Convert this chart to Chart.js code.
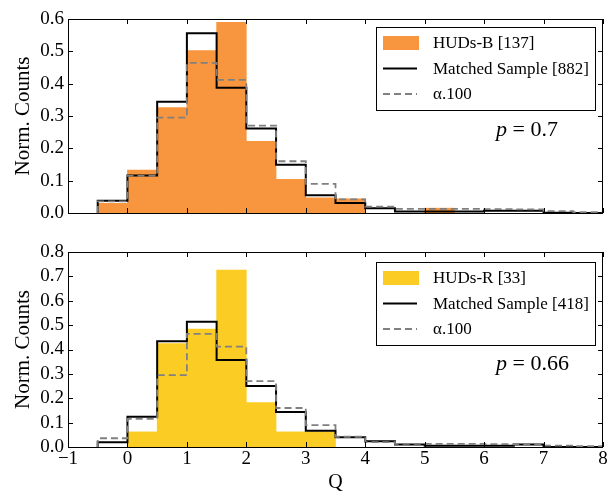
<!DOCTYPE html>
<html>
<head>
<meta charset="utf-8">
<script src="https://cdn.jsdelivr.net/npm/chart.js@4.4.1/dist/chart.umd.min.js"></script>
<style>
  html, body { margin: 0; padding: 0; background: #fff; }
  #wrap { width: 610px; height: 492px; }
  canvas { display: block; }
</style>
</head>
<body>
<div id="wrap">
  <canvas id="topPanel" width="610" height="235"></canvas>
  <canvas id="bottomPanel" width="610" height="257"></canvas>
</div>
<script>
// histogram bins of width 0.5 in Q
const binEdges = [-0.5, 0, 0.5, 1, 1.5, 2, 2.5, 3, 3.5, 4, 4.5, 5, 5.5, 6, 6.5, 7, 7.5, 8];

const hudsB    = [0.030, 0.133, 0.326, 0.502, 0.590, 0.222, 0.104, 0.047, 0.044, 0, 0, 0.015, 0, 0, 0, 0, 0];
const matchedB = [0.038, 0.116, 0.344, 0.556, 0.387, 0.261, 0.149, 0.055, 0.031, 0.015, 0.005, 0.005, 0.005, 0.007, 0.007, 0.001, 0];
const hudsR    = [0, 0.062, 0.424, 0.484, 0.726, 0.182, 0.062, 0.062, 0, 0, 0, 0, 0, 0, 0, 0, 0];
const matchedR = [0.020, 0.124, 0.434, 0.514, 0.357, 0.250, 0.144, 0.067, 0.040, 0.024, 0.010, 0.005, 0.005, 0.005, 0.010, 0, 0];
const alpha100 = [0.036, 0.115, 0.295, 0.464, 0.412, 0.270, 0.160, 0.090, 0.042, 0.020, 0.013, 0.013, 0.013, 0.012, 0.011, 0.006, 0.003];

const xTicks = [-1, 0, 1, 2, 3, 4, 5, 6, 7, 8];
const yTicksTop = [0, 0.1, 0.2, 0.3, 0.4, 0.5, 0.6];
const yTicksBottom = [0, 0.1, 0.2, 0.3, 0.4, 0.5, 0.6, 0.7, 0.8];

const SERIF = "'Liberation Serif', 'DejaVu Serif', serif";

// outline of a step histogram, starting and ending on zero
const stepPoints = (values) => {
  const pts = [{ x: binEdges[0], y: 0 }];
  values.forEach((v, i) => pts.push({ x: binEdges[i], y: v }));
  pts.push({ x: binEdges[values.length], y: 0 });
  return pts;
};

const barPoints = (values) =>
  values
    .map((v, i) => ({ x: (binEdges[i] + binEdges[i + 1]) / 2, y: v }))
    .filter((p) => p.y > 0);

// frame plus inward tick marks on all four sides
const innerTicks = {
  id: "innerTicks",
  afterDatasetsDraw(chart) {
    const { ctx, chartArea: a, scales: { x, y } } = chart;
    const len = 5;
    ctx.save();
    ctx.strokeStyle = "#000";
    ctx.lineWidth = 1;
    ctx.beginPath();
    x.ticks.forEach((t) => {
      const px = Math.round(x.getPixelForValue(t.value)) + 0.5;
      ctx.moveTo(px, a.bottom);
      ctx.lineTo(px, a.bottom - len);
      ctx.moveTo(px, a.top);
      ctx.lineTo(px, a.top + len);
    });
    y.ticks.forEach((t) => {
      const py = Math.round(y.getPixelForValue(t.value)) + 0.5;
      ctx.moveTo(a.left, py);
      ctx.lineTo(a.left + len, py);
      ctx.moveTo(a.right, py);
      ctx.lineTo(a.right - len, py);
    });
    ctx.stroke();
    ctx.strokeRect(a.left + 0.5, a.top + 0.5, a.right - a.left - 1, a.bottom - a.top);
    ctx.restore();
  },
};

// boxed legend in the upper right and the p-value note
const insetLegend = {
  id: "insetLegend",
  afterDraw(chart, args, opts) {
    const { ctx, chartArea: a } = chart;
    const w = 219, h = 83;
    const left = a.right - 8 - w;
    const top = a.top + opts.offsetTop;
    ctx.save();
    ctx.fillStyle = "#fff";
    ctx.fillRect(left, top, w, h);
    ctx.strokeStyle = "#000";
    ctx.lineWidth = 1;
    ctx.strokeRect(left + 0.5, top + 0.5, w, h);

    ctx.font = "17px " + SERIF;
    ctx.textBaseline = "middle";
    ctx.textAlign = "left";
    const rows = [2, 1, 0].map((i) => chart.data.datasets.find((d) => d.order === i));
    rows.forEach((ds, i) => {
      const cy = top + 16 + i * 25.5;
      if (ds.type === "bar") {
        ctx.fillStyle = ds.backgroundColor;
        ctx.fillRect(left + 7, cy - 7, 36, 14);
      } else {
        ctx.strokeStyle = ds.borderColor;
        ctx.lineWidth = ds.borderWidth;
        ctx.setLineDash(ds.borderDash || []);
        ctx.beginPath();
        ctx.moveTo(left + 7, cy);
        ctx.lineTo(left + 41, cy);
        ctx.stroke();
        ctx.setLineDash([]);
      }
      ctx.fillStyle = "#000";
      ctx.fillText(ds.label, left + 57, cy + 1);
    });

    // p = value, with an italic p
    const px = 496, py = a.top + opts.pOffset;
    ctx.font = "italic 22px " + SERIF;
    ctx.fillText("p", px, py);
    const pw = ctx.measureText("p").width;
    ctx.font = "22px " + SERIF;
    ctx.fillText(" = " + opts.pValue, px + pw, py);
    ctx.restore();
  },
};

const fixedTicks = (values) => (scale) => {
  scale.ticks = values.map((v) => ({ value: v }));
};

const buildPanel = (canvas, cfg) => {
  return new Chart(canvas, {
    data: {
      datasets: [
        {
          type: "bar",
          label: cfg.label,
          data: barPoints(cfg.huds),
          backgroundColor: cfg.color,
          borderWidth: 0,
          barPercentage: 1,
          categoryPercentage: 1,
          order: 2,
        },
        {
          type: "line",
          label: cfg.matchedLabel,
          data: stepPoints(cfg.matched),
          stepped: "before",
          borderColor: "#000",
          borderWidth: 2,
          pointRadius: 0,
          fill: false,
          order: 1,
        },
        {
          type: "line",
          label: "\u03b1.100",
          data: stepPoints(alpha100),
          stepped: "before",
          borderColor: "#808080",
          borderWidth: 1.8,
          borderDash: [7, 4],
          pointRadius: 0,
          fill: false,
          order: 0,
        },
      ],
    },
    options: {
      responsive: false,
      animation: false,
      events: [],
      layout: {
        padding: { left: 0, right: 7, top: cfg.padTop, bottom: 0 },
      },
      scales: {
        x: {
          type: "linear",
          min: -1,
          max: 8,
          offset: false,
          afterBuildTicks: fixedTicks(xTicks),
          afterFit: (s) => { s.height = cfg.xHeight; },
          grid: { display: false, drawTicks: false, offset: false },
          border: { display: false },
          ticks: {
            display: cfg.showX,
            autoSkip: false,
            maxRotation: 0,
            padding: 1,
            color: "#000",
            font: { family: SERIF, size: 19 },
            callback: (v) => (v < 0 ? "\u2212" + Math.abs(v) : String(v)),
          },
          title: {
            display: cfg.showX,
            text: "Q",
            color: "#000",
            font: { family: SERIF, size: 20 },
            padding: { top: 0, bottom: -3 },
          },
        },
        y: {
          type: "linear",
          min: 0,
          max: cfg.yMax,
          afterBuildTicks: fixedTicks(cfg.yTicks),
          afterFit: (s) => { s.width = 68; },
          grid: { display: false, drawTicks: false },
          border: { display: false },
          ticks: {
            autoSkip: false,
            padding: 4,
            color: "#000",
            font: { family: SERIF, size: 19 },
            callback: (v) => v.toFixed(1),
          },
          title: {
            display: true,
            text: "Norm. Counts",
            color: "#000",
            font: { family: SERIF, size: 21 },
            padding: { top: 11, bottom: 0 },
          },
        },
      },
      plugins: {
        legend: { display: false },
        tooltip: { enabled: false },
        insetLegend: { offsetTop: cfg.legendTop, pValue: cfg.pValue, pOffset: cfg.pOffset },
      },
    },
    plugins: [innerTicks, insetLegend],
  });
};

buildPanel(document.getElementById("topPanel"), {
  label: "HUDs-B [137]",
  matchedLabel: "Matched Sample [882]",
  huds: hudsB,
  matched: matchedB,
  color: "#f7963f",
  yMax: 0.6,
  yTicks: yTicksTop,
  padTop: 19,
  xHeight: 22,
  showX: false,
  legendTop: 8,
  pValue: "0.7",
  pOffset: 111,
});

buildPanel(document.getElementById("bottomPanel"), {
  label: "HUDs-R [33]",
  matchedLabel: "Matched Sample [418]",
  huds: hudsR,
  matched: matchedR,
  color: "#fbcd24",
  yMax: 0.8,
  yTicks: yTicksBottom,
  padTop: 17,
  xHeight: 45,
  showX: true,
  legendTop: 10,
  pValue: "0.66",
  pOffset: 112,
});
</script>
</body>
</html>
